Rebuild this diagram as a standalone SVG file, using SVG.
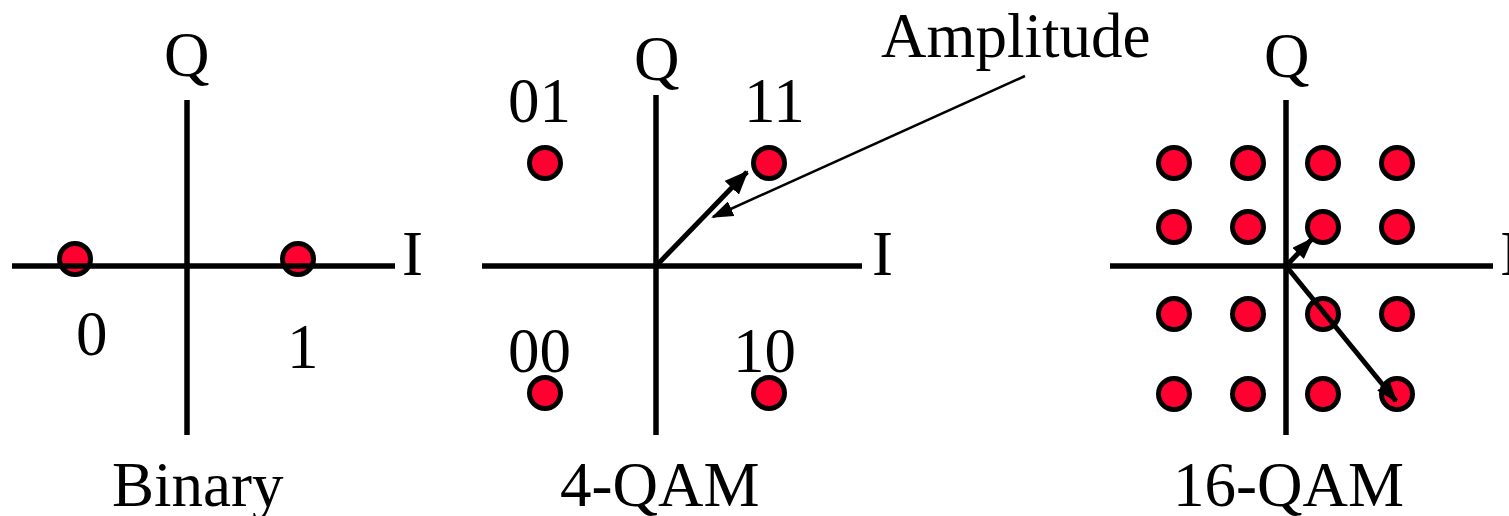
<svg xmlns="http://www.w3.org/2000/svg" width="1509" height="516" viewBox="0 0 1509 516">
<style>
.pt{fill:#ff0030;stroke:#000;stroke-width:5}
.ax{stroke:#000;stroke-width:5.5;fill:none}
.vec{stroke:#000;stroke-width:5;fill:none}
.thin{stroke:#000;stroke-width:2.5;fill:none}
text{font-family:"Liberation Serif","Times New Roman",serif;font-size:63px;fill:#000}
</style>
<defs>
<marker id="ah" markerUnits="userSpaceOnUse" markerWidth="24" markerHeight="20" refX="22" refY="10" orient="auto" viewBox="0 0 24 20">
<path d="M0,0 L24,10 L0,20 Z" fill="#000"/>
</marker>
<marker id="ahs" markerUnits="userSpaceOnUse" markerWidth="22" markerHeight="16" refX="20" refY="8" orient="auto" viewBox="0 0 22 16">
<path d="M0,0 L22,8 L0,16 Z" fill="#000"/>
</marker>
</defs>
<rect width="1509" height="516" fill="#fff"/>

<g id="binary">
<circle class="pt" cx="75" cy="259" r="15.5"/>
<circle class="pt" cx="298" cy="259" r="15.5"/>
<line class="ax" x1="12" y1="266" x2="395" y2="266"/>
<line class="ax" x1="187" y1="100" x2="187" y2="435"/>
<text x="164" y="76">Q</text>
<text x="402" y="275">I</text>
<text x="76" y="355">0</text>
<text x="287" y="368">1</text>
<text x="112" y="506">Binary</text>
</g>

<g id="qam4">
<line class="ax" x1="482" y1="266" x2="862" y2="266"/>
<line class="ax" x1="656" y1="95" x2="656" y2="435"/>
<circle class="pt" cx="545" cy="163" r="15.5"/>
<circle class="pt" cx="769" cy="163" r="15.5"/>
<circle class="pt" cx="545" cy="393" r="15.5"/>
<circle class="pt" cx="769" cy="393" r="15.5"/>
<text x="634" y="80">Q</text>
<text x="872" y="275">I</text>
<text x="508" y="122">01</text>
<text x="744" y="122">11</text>
<text x="508" y="372">00</text>
<text x="733" y="372">10</text>
<text x="560" y="506">4-QAM</text>
</g>

<g id="qam16">
<circle class="pt" cx="1174" cy="163" r="15.5"/>
<circle class="pt" cx="1248" cy="163" r="15.5"/>
<circle class="pt" cx="1323" cy="163" r="15.5"/>
<circle class="pt" cx="1397" cy="163" r="15.5"/>
<circle class="pt" cx="1174" cy="227" r="15.5"/>
<circle class="pt" cx="1248" cy="227" r="15.5"/>
<circle class="pt" cx="1323" cy="227" r="15.5"/>
<circle class="pt" cx="1397" cy="227" r="15.5"/>
<circle class="pt" cx="1174" cy="314" r="15.5"/>
<circle class="pt" cx="1248" cy="314" r="15.5"/>
<circle class="pt" cx="1323" cy="314" r="15.5"/>
<circle class="pt" cx="1397" cy="314" r="15.5"/>
<circle class="pt" cx="1174" cy="394" r="15.5"/>
<circle class="pt" cx="1248" cy="394" r="15.5"/>
<circle class="pt" cx="1323" cy="394" r="15.5"/>
<circle class="pt" cx="1397" cy="394" r="15.5"/>
<line class="ax" x1="1110" y1="266" x2="1493" y2="266"/>
<line class="ax" x1="1286" y1="100" x2="1286" y2="435"/>
<text x="1264" y="77">Q</text>
<text x="1500" y="275">I</text>
<text x="1173" y="506">16-QAM</text>
</g>

<g id="connectors">
<line class="vec" x1="656" y1="266" x2="747" y2="172" marker-end="url(#ah)"/>
<line class="thin" x1="1025" y1="76" x2="713" y2="217" marker-end="url(#ahs)"/>
<line class="vec" x1="1286" y1="266" x2="1312" y2="239" marker-end="url(#ahs)"/>
<line class="vec" x1="1286" y1="266" x2="1396" y2="401" marker-end="url(#ahs)"/>
<text x="881" y="57">Amplitude</text>
</g>
</svg>
